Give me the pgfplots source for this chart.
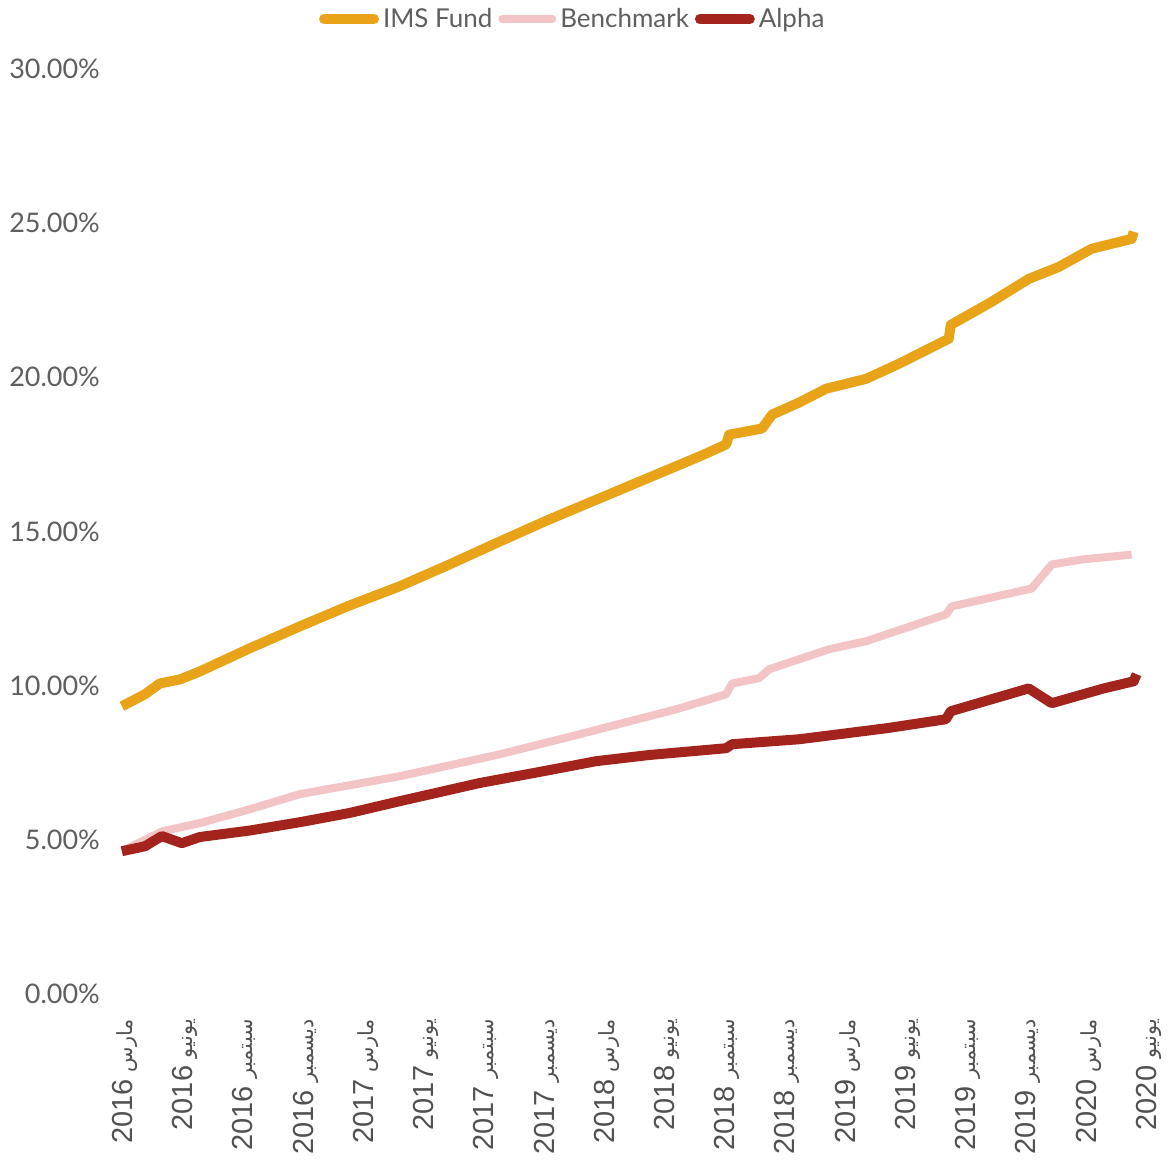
\documentclass[border=0pt]{standalone}
\usepackage{pgfplots}
\pgfplotsset{compat=1.18}
\usepackage{fontspec}
\setmainfont{Lato}
\newfontfamily\xfont{Liberation Sans}
\newfontfamily\arabicfont[Script=Arabic,Scale=0.72]{DejaVu Sans}
\TeXXeTstate=1

\definecolor{ims}{RGB}{232,163,24}
\definecolor{bench}{RGB}{243,196,198}
\definecolor{alphac}{RGB}{163,36,28}
\definecolor{txt}{RGB}{95,95,95}

% x tick label: year then Arabic month name
\newcommand{\lab}[2]{{\xfont #1}~{\arabicfont\beginR #2\endR}}

\begin{document}
\begin{tikzpicture}
\begin{axis}[
  scale only axis,
  width=517.5pt, height=463pt,
  xmin=-0.3, xmax=51.2, ymin=0, ymax=30,
  axis line style={draw=none},
  major tick length=0pt,
  ytick={0,5,...,30},
  yticklabels={0.00\%,5.00\%,10.00\%,15.00\%,20.00\%,25.00\%,30.00\%},
  xtick={0,3,...,51},
  xticklabels={
    \lab{2016}{مارس},\lab{2016}{يونيو},\lab{2016}{سبتمبر},\lab{2016}{ديسمبر},
    \lab{2017}{مارس},\lab{2017}{يونيو},\lab{2017}{سبتمبر},\lab{2017}{ديسمبر},
    \lab{2018}{مارس},\lab{2018}{يونيو},\lab{2018}{سبتمبر},\lab{2018}{ديسمبر},
    \lab{2019}{مارس},\lab{2019}{يونيو},\lab{2019}{سبتمبر},\lab{2019}{ديسمبر},
    \lab{2020}{مارس},\lab{2020}{يونيو}},
  x tick label style={rotate=90, anchor=east, text=txt!85!black,
    font=\fontsize{14.5}{17}\selectfont},
  y tick label style={text=txt, font=\fontsize{13.5}{16}\selectfont},
  xticklabel shift=9pt,
  yticklabel shift=6pt,
  legend style={draw=none, fill=none, legend columns=-1,
    at={(0.44,1)}, anchor=center, yshift=25pt,
    font=\fontsize{13}{16}\selectfont, text=txt,
    /tikz/every even column/.append style={column sep=1pt}},
  legend image code/.code={\draw[#1, line cap=round] (0pt,0pt) -- (25pt,0pt);},
  every axis plot/.append style={line join=round},
]
\coordinate (sw) at (rel axis cs:0,0);
\coordinate (ne) at (rel axis cs:1,1);

\addplot[ims, line width=5pt] coordinates {
  (-0.15,9.33) (1.0,9.72) (1.74,10.07) (2.74,10.20) (3.73,10.46)
  (6.22,11.21) (8.71,11.92) (11.19,12.60) (13.68,13.22) (16.17,13.93)
  (18.66,14.67) (21.14,15.39) (23.63,16.07) (26.12,16.75) (28.61,17.43)
  (29.95,17.82) (30.1,18.14) (31.74,18.34) (32.24,18.79) (33.58,19.18)
  (34.93,19.63) (36.92,19.95) (38.56,20.44) (41.04,21.25) (41.14,21.70)
  (43.18,22.45) (45.02,23.19) (46.52,23.58) (48.16,24.17) (50.15,24.49)
  (50.25,24.72)
};
\addlegendentry{IMS Fund}

\addplot[bench, line width=4pt] coordinates {
  (-0.15,4.63) (1.89,5.28) (3.73,5.54) (6.22,5.99) (8.71,6.48)
  (13.68,7.06) (18.66,7.77) (22.64,8.42) (27.61,9.26) (29.95,9.72)
  (30.25,10.07) (31.59,10.24) (32.09,10.53) (35.07,11.18) (36.92,11.44)
  (40.9,12.31) (41.19,12.57) (45.17,13.15) (46.17,13.93) (47.66,14.09)
  (50.15,14.25)
};
\addlegendentry{Benchmark}

\addplot[alphac, line width=5pt] coordinates {
  (-0.15,4.63) (1.0,4.79) (1.84,5.12) (2.84,4.89) (3.73,5.09)
  (6.22,5.30) (8.71,5.57) (11.19,5.87) (13.68,6.25) (17.66,6.84)
  (20.65,7.20) (23.48,7.55) (26.12,7.75) (29.95,7.97) (30.25,8.10)
  (33.58,8.26) (37.96,8.62) (40.9,8.91) (41.14,9.17) (45.02,9.91)
  (46.17,9.43) (48.76,9.91) (50.25,10.14) (50.4,10.37)
};
\addlegendentry{Alpha}
\end{axis}
\path ([shift={(-59.5pt,-81pt)}]sw) rectangle ([shift={(7pt,33.5pt)}]ne);
\end{tikzpicture}
\end{document}
